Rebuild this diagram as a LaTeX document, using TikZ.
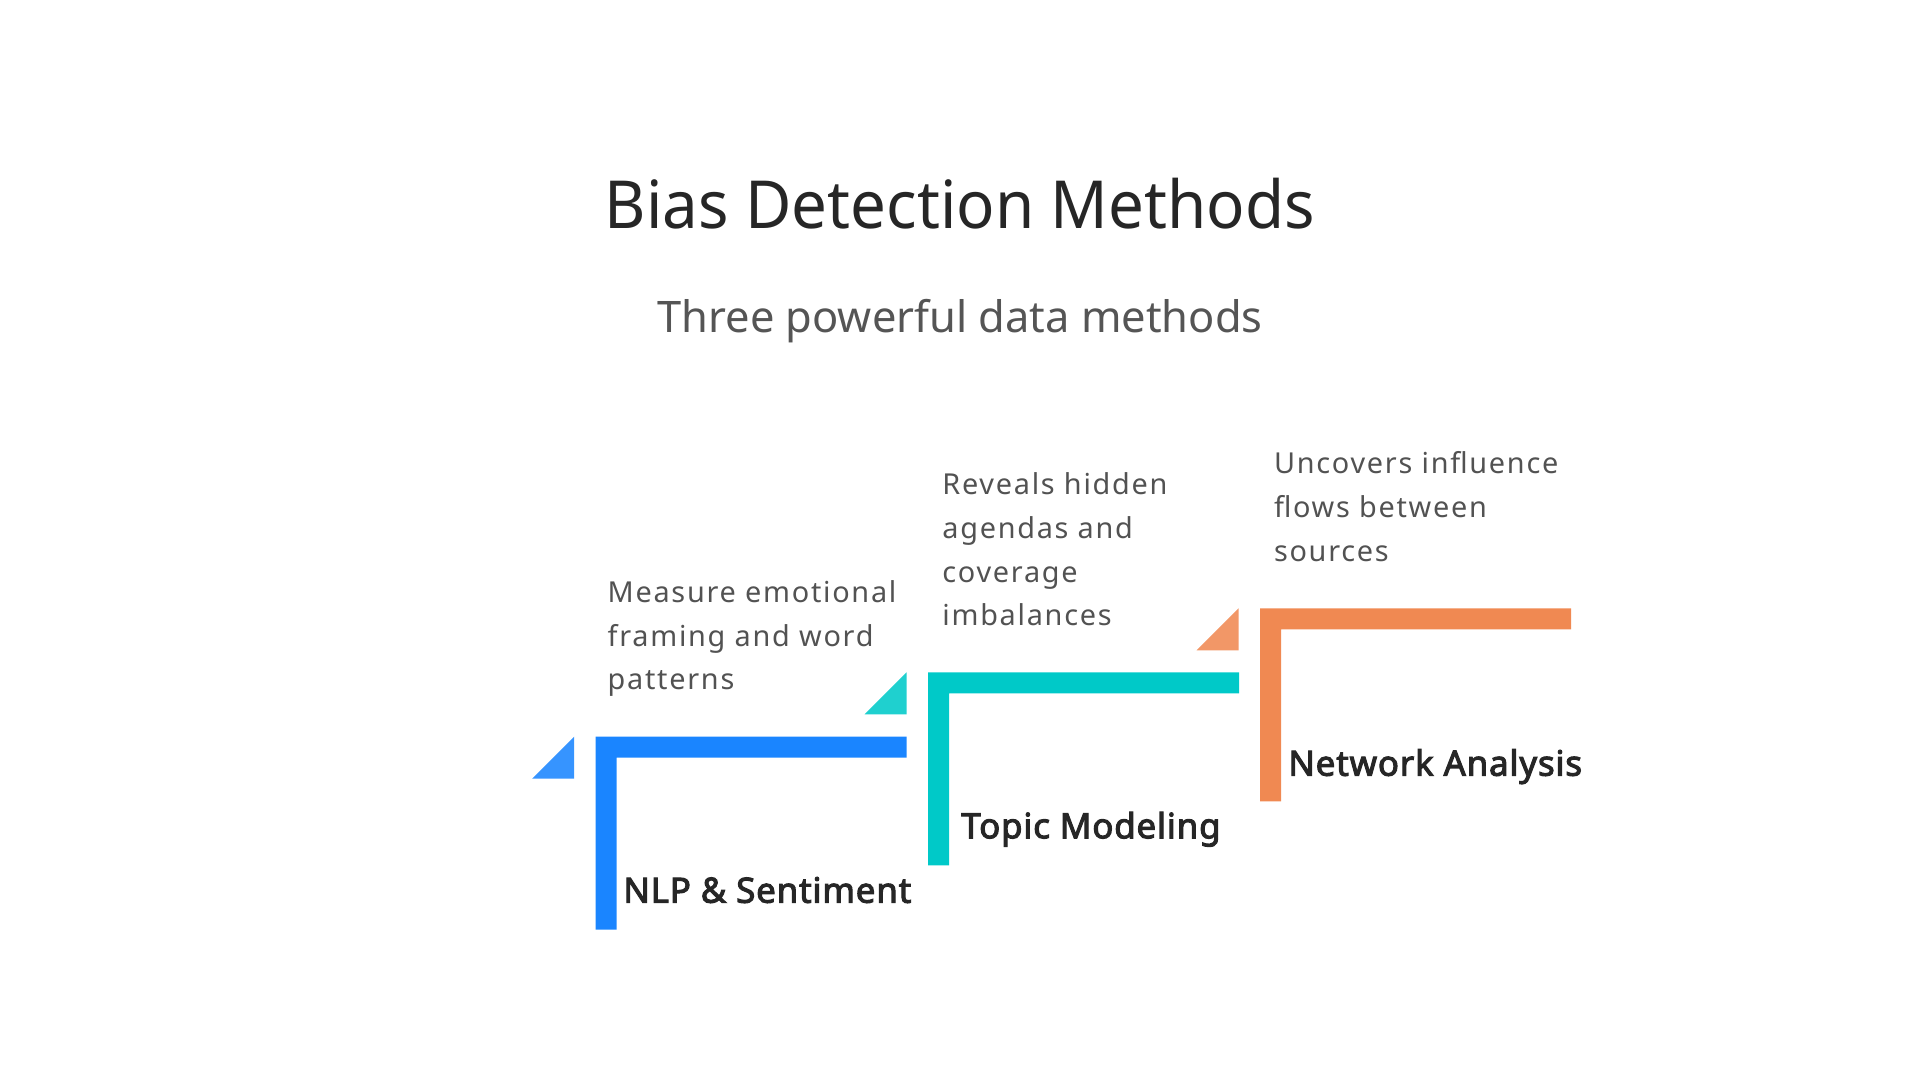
\documentclass[tikz,border=0pt]{standalone}
\usepackage{fontspec}
\setmainfont{Noto Sans}
\newfontfamily\titlefont{Noto Sans}[FakeStretch=0.96]
\newfontfamily\descfont{Noto Sans}[LetterSpace=6]
\newfontfamily\labelfont{Noto Sans}[FakeBold=3,LetterSpace=2.5]
\usepackage{tikz}
\usetikzlibrary{positioning}
\definecolor{nlpblue}{RGB}{26,133,255}
\definecolor{topicteal}{RGB}{0,201,200}
\definecolor{netorange}{RGB}{240,137,82}
\definecolor{titlegrey}{RGB}{38,38,38}
\definecolor{subgrey}{RGB}{85,85,85}
\definecolor{descgrey}{RGB}{82,82,82}
\newcommand{\stepL}[3]{% colour, x, y of the corner
  \fill[#1] (#2,#3) -- ++(311,0) -- ++(0,21) -- ++(-290,0) -- ++(0,172) -- ++(-21,0) -- cycle;
  \fill[#1!88!white] (#2-21.5,#3) -- ++(0,42) -- ++(-42,0) -- cycle;
}
\tikzset{
  methodlabel/.style={anchor=base west, inner sep=0pt, font=\labelfont\fontsize{9.9}{12}\selectfont, text=titlegrey},
  methoddesc/.style={anchor=base west, inner sep=0pt, align=left, font=\descfont\fontsize{8.2}{12.5}\selectfont, text=descgrey}
}

\begin{document}
\begin{tikzpicture}[x=0.01cm, y=-0.01cm]
    \useasboundingbox (0,0) rectangle (1920,1080);

    % Title and subtitle
    \node[inner sep=0pt, anchor=base, font=\titlefont\fontsize{18.85}{22}\selectfont, text=titlegrey]
      (title) at (960,229) {Bias Detection Methods};
    \node[inner sep=0pt, anchor=base, font=\fontsize{12.35}{15}\selectfont, text=subgrey]
      (subtitle) at (960,332.7) {Three powerful data methods};

    % Step 1 (blue)
    \stepL{nlpblue}{595.7}{736.7}
    \node[methodlabel] (nlp) at (622.7,902.7) {NLP \& Sentiment};
    \node[methoddesc] (nlpdesc) at (607,690)
      {Measure emotional\\framing and word\\patterns};

    % Step 2 (teal)
    \stepL{topicteal}{928}{672.5}
    \node[methodlabel] (topic) at (960.7,838.3) {Topic Modeling};
    \node[methoddesc] (topicdesc) at (941.7,626)
      {Reveals hidden\\agendas and\\coverage\\imbalances};

    % Step 3 (orange)
    \stepL{netorange}{1260}{608.3}
    \node[methodlabel] (network) at (1287.7,775.7) {Network Analysis};
    \node[methoddesc] (networkdesc) at (1273.3,561.7)
      {Uncovers influence\\flows between\\sources};

\end{tikzpicture}
\end{document}
